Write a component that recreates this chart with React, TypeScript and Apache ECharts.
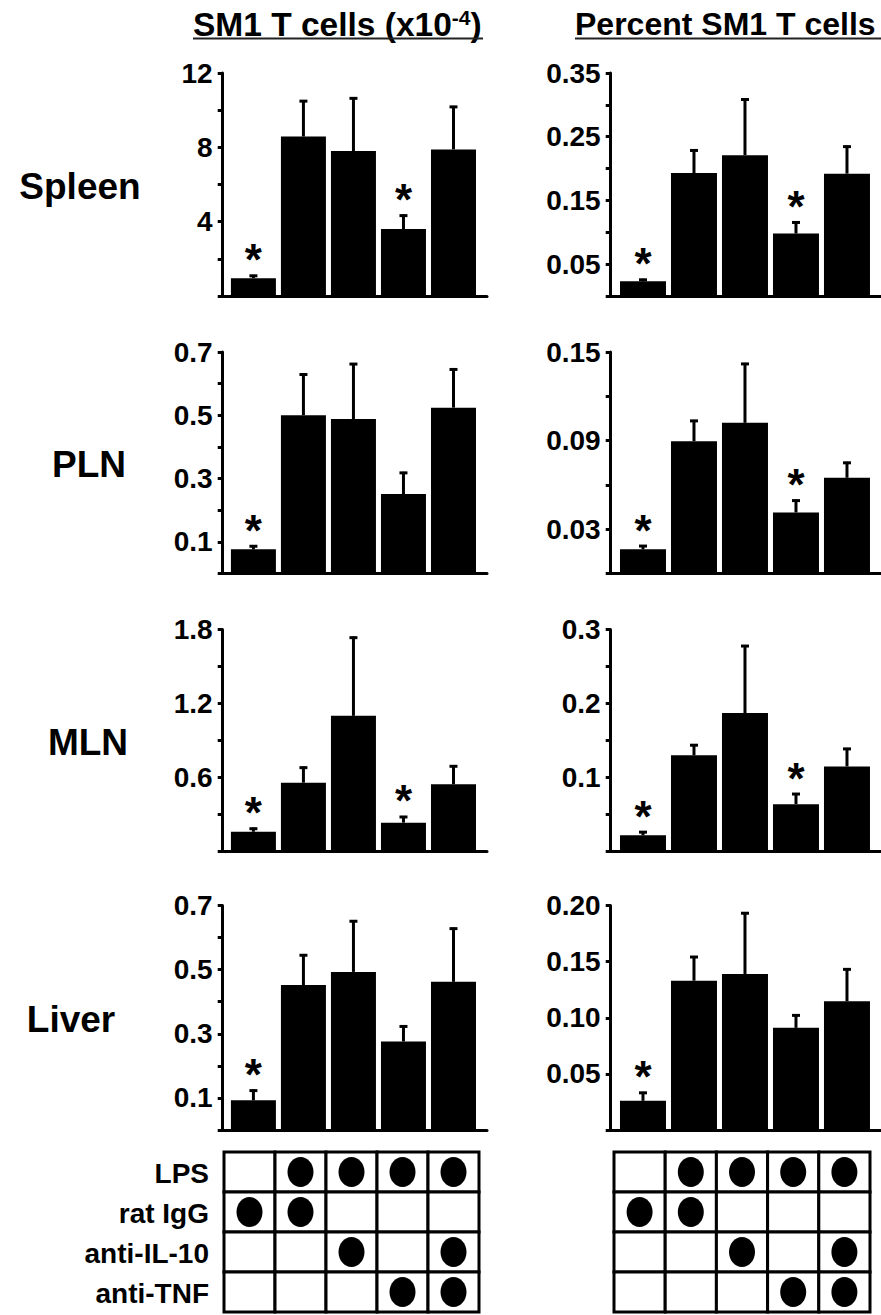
import React, { useEffect, useRef } from "react";
import * as echarts from "echarts";

// ---------- DATA ----------
const groups = ["rat IgG", "LPS + rat IgG", "LPS + anti-IL-10", "LPS + anti-TNF", "LPS + anti-IL-10 + anti-TNF"];
const tissues = ["Spleen", "PLN", "MLN", "Liver"];
const countTitle = "SM1 T cells (x10";
const countTitleExp = "-4";
const pctTitle = "Percent SM1 T cells";

const spleenCountMean = [0.96, 8.58, 7.8, 3.6, 7.89];
const spleenCountErr = [1.14, 10.54, 10.69, 4.38, 10.23];
const spleenCountStars = [1, 0, 0, 1, 0];
const spleenCountTicks = ["4", "8", "12"];

const spleenPctMean = [0.023, 0.193, 0.221, 0.098, 0.192];
const spleenPctErr = [0.027, 0.23, 0.31, 0.117, 0.236];
const spleenPctStars = [1, 0, 0, 1, 0];
const spleenPctTicks = ["0.05", "0.15", "0.25", "0.35"];

const plnCountMean = [0.076, 0.5, 0.488, 0.251, 0.524];
const plnCountErr = [0.089, 0.632, 0.665, 0.321, 0.648];
const plnCountStars = [1, 0, 0, 0, 0];
const plnCountTicks = ["0.1", "0.3", "0.5", "0.7"];

const plnPctMean = [0.0163, 0.0896, 0.102, 0.0413, 0.0648];
const plnPctErr = [0.0192, 0.104, 0.1426, 0.05, 0.0756];
const plnPctStars = [1, 0, 0, 1, 0];
const plnPctTicks = ["0.03", "0.09", "0.15"];

const mlnCountMean = [0.16, 0.558, 1.1, 0.234, 0.545];
const mlnCountErr = [0.193, 0.688, 1.742, 0.288, 0.699];
const mlnCountStars = [1, 0, 0, 1, 0];
const mlnCountTicks = ["0.6", "1.2", "1.8"];

const mlnPctMean = [0.022, 0.13, 0.187, 0.064, 0.115];
const mlnPctErr = [0.0275, 0.145, 0.279, 0.079, 0.14];
const mlnPctStars = [1, 0, 0, 1, 0];
const mlnPctTicks = ["0.1", "0.2", "0.3"];

const liverCountMean = [0.0925, 0.452, 0.493, 0.276, 0.462];
const liverCountErr = [0.126, 0.548, 0.654, 0.326, 0.631];
const liverCountStars = [1, 0, 0, 0, 0];
const liverCountTicks = ["0.1", "0.3", "0.5", "0.7"];

const liverPctMean = [0.026, 0.133, 0.139, 0.091, 0.1146];
const liverPctErr = [0.034, 0.155, 0.194, 0.103, 0.144];
const liverPctStars = [1, 0, 0, 0, 0];
const liverPctTicks = ["0.05", "0.10", "0.15", "0.20"];

const treatmentNames = ["LPS", "rat IgG", "anti-IL-10", "anti-TNF"];
const lpsRow = [0, 1, 1, 1, 1];
const ratIgGRow = [1, 1, 0, 0, 0];
const antiIL10Row = [0, 0, 1, 0, 1];
const antiTNFRow = [0, 0, 0, 1, 1];

// ---------- LAYOUT ----------
const FONT = '"Liberation Sans", Arial, Helvetica, sans-serif';
const colAxisX = [222.7, 610.7];
const colAxisEnd = [487, 881];
const colXMin = [-0.614, -0.633];
const colXMax = [4.67, 4.667];
const colBarWidth = [45, 46];
const rowTop = [73, 352, 629.5, 905.5];
const rowBottom = [296, 573.4, 851.5, 1130];
const rowLabelX = [80, 89, 88, 71];
const tableLeft = [224, 614];
const tableColW = [51, 51.2];
const tableTop = 1152;
const tableRowH = 40;

type Panel = {
  mean: number[];
  err: number[];
  stars: number[];
  max: number;
  interval: number;
  ticks: string[];
};

const panels: Panel[] = [
  { mean: spleenCountMean, err: spleenCountErr, stars: spleenCountStars, max: 12, interval: 2, ticks: spleenCountTicks },
  { mean: spleenPctMean, err: spleenPctErr, stars: spleenPctStars, max: 0.35, interval: 0.05, ticks: spleenPctTicks },
  { mean: plnCountMean, err: plnCountErr, stars: plnCountStars, max: 0.7, interval: 0.1, ticks: plnCountTicks },
  { mean: plnPctMean, err: plnPctErr, stars: plnPctStars, max: 0.15, interval: 0.03, ticks: plnPctTicks },
  { mean: mlnCountMean, err: mlnCountErr, stars: mlnCountStars, max: 1.8, interval: 0.3, ticks: mlnCountTicks },
  { mean: mlnPctMean, err: mlnPctErr, stars: mlnPctStars, max: 0.3, interval: 0.05, ticks: mlnPctTicks },
  { mean: liverCountMean, err: liverCountErr, stars: liverCountStars, max: 0.7, interval: 0.1, ticks: liverCountTicks },
  { mean: liverPctMean, err: liverPctErr, stars: liverPctStars, max: 0.2, interval: 0.05, ticks: liverPctTicks },
];

function buildOption() {
  const grid: any[] = [];
  const xAxis: any[] = [];
  const yAxis: any[] = [];
  const series: any[] = [];

  panels.forEach((p, i) => {
    const row = Math.floor(i / 2);
    const col = i % 2;
    grid.push({
      left: colAxisX[col],
      top: rowTop[row],
      width: colAxisEnd[col] - colAxisX[col],
      height: rowBottom[row] - rowTop[row],
      containLabel: false,
    });
    xAxis.push({
      type: "value",
      gridIndex: i,
      min: colXMin[col],
      max: colXMax[col],
      axisLine: { show: true, onZero: false, lineStyle: { color: "#000", width: 3 } },
      axisTick: { show: false },
      axisLabel: { show: false },
      splitLine: { show: false },
    });
    yAxis.push({
      type: "value",
      gridIndex: i,
      min: 0,
      max: p.max,
      interval: p.interval,
      axisLine: { show: true, onZero: false, lineStyle: { color: "#000", width: 3 } },
      axisTick: { show: true, inside: false, length: 5, lineStyle: { color: "#000", width: 3 } },
      splitLine: { show: false },
      axisLabel: {
        color: "#000",
        fontSize: 28,
        fontWeight: "bold",
        fontFamily: FONT,
        margin: 10,
        formatter: (v: number) => {
          const t = p.ticks.find((s) => Math.abs(parseFloat(s) - v) < 1e-9);
          return t ? t : "";
        },
      },
    });
    series.push({
      type: "bar",
      xAxisIndex: i,
      yAxisIndex: i,
      barWidth: colBarWidth[col],
      itemStyle: { color: "#000" },
      data: p.mean.map((m, j) => [j, m]),
      z: 2,
    });
    series.push({
      type: "custom",
      xAxisIndex: i,
      yAxisIndex: i,
      encode: { x: 0, y: [1, 2] },
      data: p.mean.map((m, j) => [j, m, p.err[j]]),
      z: 3,
      renderItem: (params: any, api: any) => {
        const x = api.value(0);
        const p0 = api.coord([x, api.value(1)]);
        const p1 = api.coord([x, api.value(2)]);
        return {
          type: "group",
          children: [
            {
              type: "line",
              shape: { x1: p0[0], y1: p0[1], x2: p1[0], y2: p1[1] },
              style: { stroke: "#000", lineWidth: 3 },
            },
            {
              type: "line",
              shape: { x1: p1[0] - 4, y1: p1[1] + 1, x2: p1[0] + 4, y2: p1[1] + 1 },
              style: { stroke: "#000", lineWidth: 3 },
            },
          ],
        };
      },
    });
    const starData = p.err
      .map((e, j) => [j, e, p.stars[j]])
      .filter((d) => d[2] === 1)
      .map((d) => [d[0], d[1]]);
    series.push({
      type: "custom",
      xAxisIndex: i,
      yAxisIndex: i,
      encode: { x: 0, y: 1 },
      data: starData,
      z: 4,
      renderItem: (params: any, api: any) => {
        const pt = api.coord([api.value(0), api.value(1)]);
        return {
          type: "text",
          x: pt[0],
          y: pt[1] - 15,
          style: {
            text: "*",
            fill: "#000",
            font: `bold 44px ${FONT}`,
            align: "center",
            verticalAlign: "middle",
            textAlign: "center",
            textVerticalAlign: "middle",
          },
        };
      },
    });
  });

  const graphic: any[] = [];
  // Titles
  graphic.push({
    type: "text",
    x: 193,
    y: 24,
    style: {
      text: `{a|${countTitle}}{s|${countTitleExp}}{a|)}`,
      rich: {
        a: { fontSize: 33.5, fontWeight: "bold", fontFamily: FONT, fill: "#000" },
        s: { fontSize: 21, fontWeight: "bold", fontFamily: FONT, fill: "#000", verticalAlign: "top" },
      },
      fill: "#000",
      verticalAlign: "middle",
      textVerticalAlign: "middle",
    },
  });
  graphic.push({
    type: "line",
    shape: { x1: 193, y1: 38.5, x2: 483, y2: 38.5 },
    style: { stroke: "#222", lineWidth: 2 },
  });
  graphic.push({
    type: "text",
    x: 575,
    y: 24,
    style: {
      text: pctTitle,
      font: `bold 32px ${FONT}`,
      fill: "#000",
      verticalAlign: "middle",
      textVerticalAlign: "middle",
    },
  });
  graphic.push({
    type: "line",
    shape: { x1: 575, y1: 38.5, x2: 881, y2: 38.5 },
    style: { stroke: "#222", lineWidth: 2 },
  });
  // Row labels
  tissues.forEach((t, r) => {
    graphic.push({
      type: "text",
      x: rowLabelX[r],
      y: (rowTop[r] + rowBottom[r]) / 2 + 2,
      style: {
        text: t,
        font: `bold 37px ${FONT}`,
        fill: "#000",
        align: "center",
        verticalAlign: "middle",
        textAlign: "center",
        textVerticalAlign: "middle",
      },
    });
  });
  // Treatment tables
  const tableRows = [lpsRow, ratIgGRow, antiIL10Row, antiTNFRow];
  [0, 1].forEach((t) => {
    tableRows.forEach((rowFlags, r) => {
      rowFlags.forEach((flag, c) => {
        const x = tableLeft[t] + c * tableColW[t];
        const y = tableTop + r * tableRowH;
        graphic.push({
          type: "rect",
          shape: { x, y, width: tableColW[t], height: tableRowH },
          style: { fill: "#fff", stroke: "#000", lineWidth: 3 },
          z: 1,
        });
        if (flag) {
          graphic.push({
            type: "ellipse",
            shape: { cx: x + tableColW[t] / 2, cy: y + tableRowH / 2, rx: 13, ry: 15 },
            style: { fill: "#000" },
            z: 2,
          });
        }
      });
    });
  });
  treatmentNames.forEach((n, r) => {
    graphic.push({
      type: "text",
      x: 209,
      y: tableTop + r * tableRowH + tableRowH / 2 + 1,
      style: {
        text: n,
        font: `bold 28px ${FONT}`,
        fill: "#000",
        align: "right",
        verticalAlign: "middle",
        textAlign: "right",
        textVerticalAlign: "middle",
      },
    });
  });

  return {
    animation: false,
    backgroundColor: "#fff",
    textStyle: { fontFamily: FONT },
    grid,
    xAxis,
    yAxis,
    series,
    graphic,
  };
}

export default function App() {
  const ref = useRef<HTMLDivElement>(null);
  useEffect(() => {
    if (!ref.current) return;
    const chart = echarts.init(ref.current, undefined, { renderer: "svg" });
    chart.setOption(buildOption() as any);
    return () => chart.dispose();
  }, []);
  return (
    <div
      ref={ref}
      style={{ position: "absolute", left: 0, top: 0, width: 881, height: 1315, background: "#fff" }}
    />
  );
}
